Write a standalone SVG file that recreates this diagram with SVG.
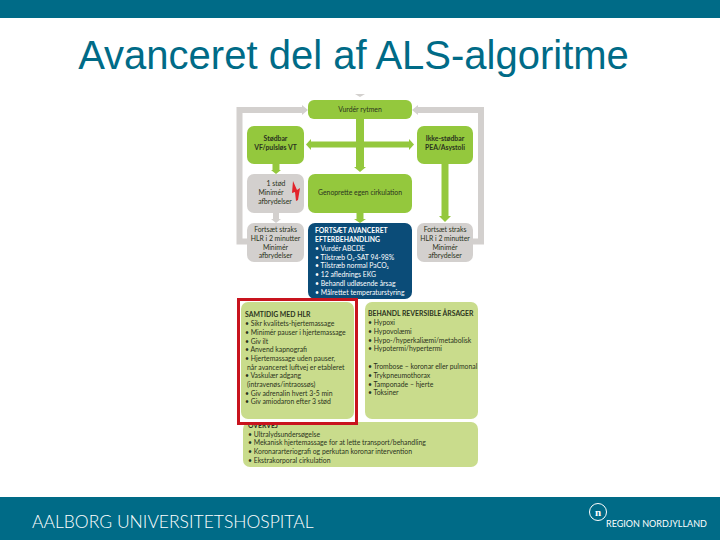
<svg xmlns="http://www.w3.org/2000/svg" width="720" height="540" viewBox="0 0 720 540">
<style>
.t{font-family:Lato,"Liberation Sans",sans-serif;font-size:6.85px;fill:#2b3320}
.c{text-anchor:middle}
.b{font-weight:700}
.w{fill:#fff}
.g{fill:#94c83d}
.y{fill:#d3d0ce}
.l{fill:#c9dc8c}
.gl{stroke:#94c83d;stroke-width:7;fill:none}
.yl{stroke:#d3d0ce;stroke-width:6;fill:none}
</style>
<rect width="720" height="540" fill="#fff"/>
<rect id="top-bar" width="720" height="18" fill="#006b87"/>
<rect id="bottom-bar" y="497" width="720" height="43" fill="#006b87"/>
<text id="title" x="353.500" y="69" text-anchor="middle" font-family="Liberation Sans,sans-serif" font-size="40" fill="#006b87">Avanceret del af ALS-algoritme</text>
<g id="connectors">
<path class="yl" d="M247 241.500H239.500V110H304"/>
<path class="yl" d="M473 241.500H481V110H416"/>
<polygon class="y" points="308,110 302,105 302,115"/>
<polygon class="y" points="412,110 418,105 418,115"/>
<polygon class="y" points="355,94 365,94 360,97"/>
<path class="gl" d="M360 119V167" style="stroke-width:8"/>
<polygon class="g" points="354,167 366,167 360,172"/>
<path class="gl" d="M310 144.500H410" style="stroke-width:6"/>
<polygon class="g" points="306,144.500 311,139 311,150"/>
<polygon class="g" points="414,144.500 409,139 409,150"/>
<path class="gl" d="M276 164V171"/>
<polygon class="g" points="271,170 281,170 276,174"/>
<path class="yl" d="M276 213V220"/>
<polygon class="y" points="271,219 281,219 276,223"/>
<path class="gl" d="M360 213V220"/>
<polygon class="g" points="354,219 366,219 360,223"/>
<path class="gl" d="M445 164V217"/>
<polygon class="g" points="439,216 451,216 445,222"/>
</g>
<g id="vurder"><rect class="g" x="308" y="100" width="104" height="19" rx="6"/><text class="t c" x="360" y="111.500">Vurdér rytmen</text></g>
<g id="stodbar"><rect class="g" x="247" y="126" width="57" height="38" rx="7"/><text class="t c b" x="275.500" y="141">Stødbar</text><text class="t c b" x="275.500" y="150">VF/pulsløs VT</text></g>
<g id="ikke-stodbar"><rect class="g" x="417" y="126" width="56" height="38" rx="7"/><text class="t c b" x="445" y="141">Ikke-stødbar</text><text class="t c b" x="445" y="150">PEA/Asystoli</text></g>
<g id="stod"><rect class="y" x="247" y="174" width="57" height="39" rx="7"/><text class="t c" x="276" y="186">1 stød</text><text class="t c" x="271" y="194.500">Minimér</text><text class="t c" x="275" y="203.500">afbrydelser</text><polygon points="293,181 297,190 300,188 298,200 296,201 295,192 292,193" fill="#e2232a"/></g>
<g id="genoprette"><rect class="g" x="308" y="174" width="104" height="39" rx="7"/><text class="t c" x="360" y="194.500">Genoprette egen cirkulation</text></g>
<g id="fortsaet-v"><rect class="y" x="247" y="223" width="57" height="39" rx="7"/><text class="t c" x="275.500" y="232">Fortsæt straks</text><text class="t c" x="275.500" y="240.500">HLR i 2 minutter</text><text class="t c" x="275.500" y="249.500">Minimér</text><text class="t c" x="275.500" y="258">afbrydelser</text></g>
<g id="fortsaet-h"><rect class="y" x="417" y="223" width="56" height="39" rx="7"/><text class="t c" x="445" y="232">Fortsæt straks</text><text class="t c" x="445" y="240.500">HLR i 2 minutter</text><text class="t c" x="445" y="249.500">Minimér</text><text class="t c" x="445" y="258">afbrydelser</text></g>
<g id="efterbehandling"><rect x="308" y="223" width="104" height="76" rx="7" fill="#0b4c78"/>
<text class="t w b" x="315" y="232.500">FORTSÆT AVANCERET</text>
<text class="t w b" x="315" y="241.500">EFTERBEHANDLING</text>
<text class="t w" x="315" y="250.500">• Vurdér ABCDE</text>
<text class="t w" x="315" y="259.500">• Tilstræb O₂-SAT 94-98%</text>
<text class="t w" x="315" y="268">• Tilstræb normal PaCO₂</text>
<text class="t w" x="315" y="277">• 12 aflednings EKG</text>
<text class="t w" x="315" y="286">• Behandl udløsende årsag</text>
<text class="t w" x="315" y="294.500">• Målrettet temperaturstyring</text></g>
<g id="samtidig"><rect class="l" x="241" y="302" width="113" height="117" rx="7"/>
<text class="t b" x="245" y="317">SAMTIDIG MED HLR</text>
<text class="t" x="245" y="326">• Sikr kvalitets-hjertemassage</text>
<text class="t" x="245" y="335">• Minimér pauser i hjertemassage</text>
<text class="t" x="245" y="343.500">• Giv ilt</text>
<text class="t" x="245" y="352">• Anvend kapnografi</text>
<text class="t" x="245" y="361">• Hjertemassage uden pauser,</text>
<text class="t" x="247" y="369.500">når avanceret luftvej er etableret</text>
<text class="t" x="245" y="378">• Vaskulær adgang</text>
<text class="t" x="247" y="386.500">(intravenøs/intraossøs)</text>
<text class="t" x="245" y="395.500">• Giv adrenalin hvert 3-5 min</text>
<text class="t" x="245" y="404">• Giv amiodaron efter 3 stød</text></g>
<g id="behandl"><rect class="l" x="365" y="302" width="113" height="117" rx="7"/>
<text class="t b" x="368" y="316">BEHANDL REVERSIBLE ÅRSAGER</text>
<text class="t" x="368" y="325">• Hypoxi</text>
<text class="t" x="368" y="334">• Hypovolæmi</text>
<text class="t" x="368" y="342.500">• Hypo-/hyperkaliæmi/metabolisk</text>
<text class="t" x="368" y="351">• Hypotermi/hypertermi</text>
<text class="t" x="368" y="369">• Trombose – koronar eller pulmonal</text>
<text class="t" x="368" y="377.500">• Trykpneumothorax</text>
<text class="t" x="368" y="386.500">• Tamponade – hjerte</text>
<text class="t" x="368" y="395">• Toksiner</text></g>
<g id="overvej"><rect class="l" x="243" y="422" width="235" height="45" rx="7"/>
<text class="t b" x="248" y="427.500">OVERVEJ</text>
<text class="t" x="248" y="436.500">• Ultralydsundersøgelse</text>
<text class="t" x="248" y="445">• Mekanisk hjertemassage for at lette transport/behandling</text>
<text class="t" x="248" y="453.500">• Koronararteriografi og perkutan koronar intervention</text>
<text class="t" x="248" y="462.500">• Ekstrakorporal cirkulation</text></g>
<rect id="highlight" x="238.500" y="299.500" width="118" height="124" fill="none" stroke="#c8141e" stroke-width="3"/>
<g id="footer">
<text x="32" y="528" font-family="Lato,sans-serif" font-weight="300" font-size="17.500" fill="#fff">AALBORG UNIVERSITETSHOSPITAL</text>
<circle cx="598" cy="512" r="8.500" fill="none" stroke="#fff" stroke-width="1"/>
<text x="598" y="515.500" text-anchor="middle" font-family="Liberation Serif,serif" font-size="11" font-weight="700" fill="#fff">n</text>
<text x="606" y="527" font-family="Lato,sans-serif" font-size="9" fill="#fff">REGION NORDJYLLAND</text>
</g>
</svg>
